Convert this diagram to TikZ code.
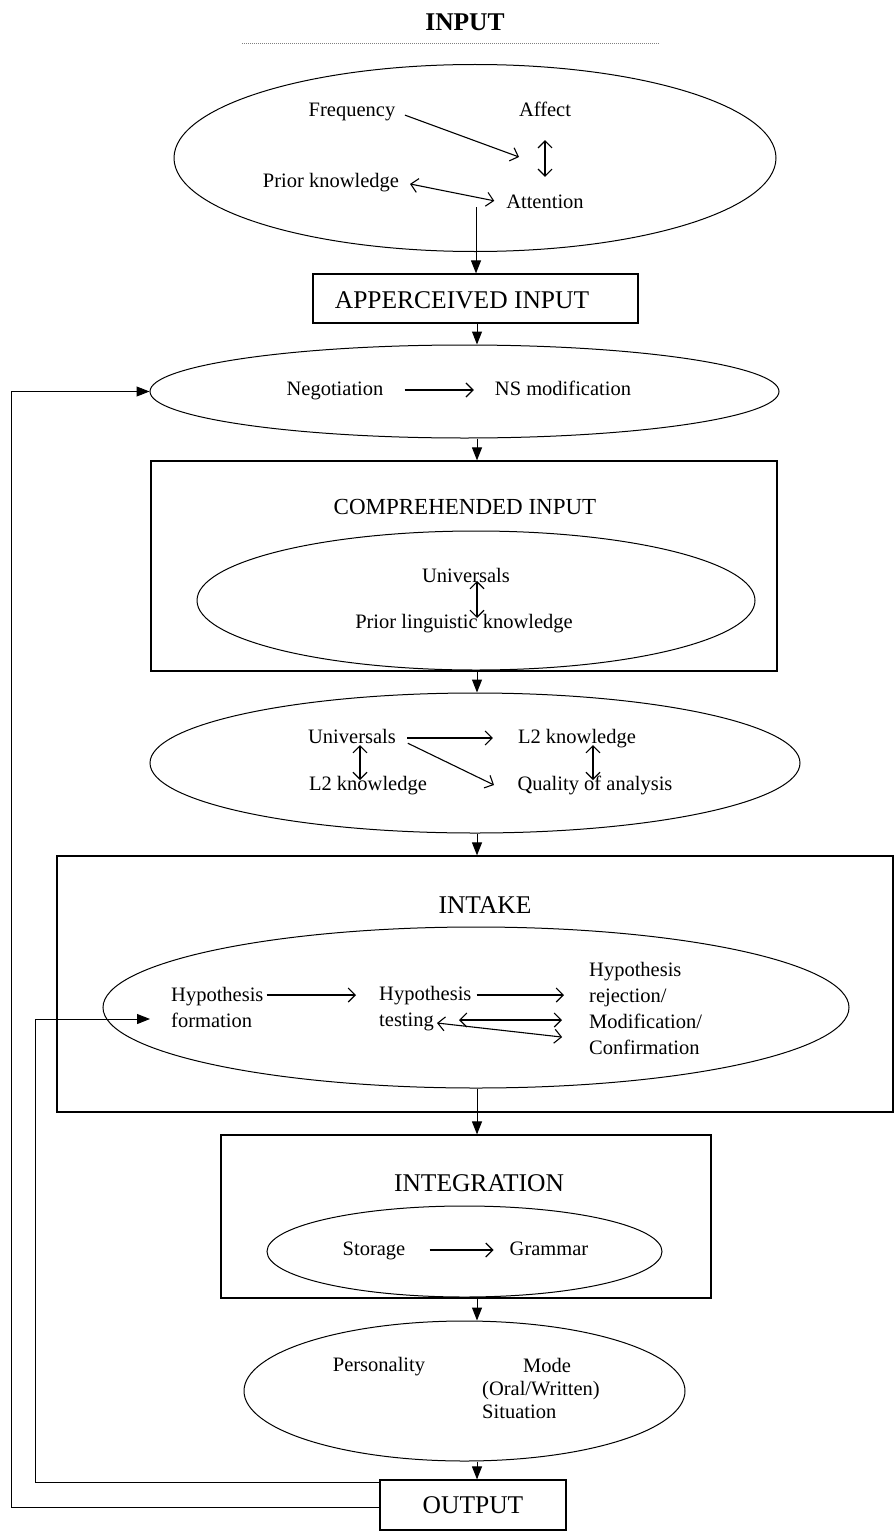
\documentclass[tikz,border=0pt]{standalone}
\usepackage{fontspec}
\setmainfont{Liberation Serif}
\usetikzlibrary{shapes.geometric,arrows.meta}
\begin{document}
\begin{tikzpicture}[x=1pt,y=-1pt,
  lbl/.style={font=\fontsize{20.5}{26}\selectfont, inner sep=1pt},
  word/.style={lbl, text height=14pt, text depth=4pt},
  heading/.style={font=\fontsize{25.5}{30}\selectfont, inner sep=1pt},
  frame/.style={draw, line width=1.2pt, inner sep=0pt},
  oval/.style={draw, ellipse, line width=1pt, inner sep=0pt},
  flow/.style={-{Triangle[length=13pt,width=10pt]}, line width=1pt},
  link/.style={-{Straight Barb[length=7pt,width=14pt]}, line width=1.1pt},
  dlink/.style={{Straight Barb[length=7pt,width=14pt]}-{Straight Barb[length=7pt,width=14pt]}, line width=1.1pt}]

\useasboundingbox (0,0) rectangle (895,1536);
\coordinate (spine) at (477,0);

\node[font=\fontsize{25.5}{30}\selectfont\bfseries, inner sep=1pt] (input) at (465,22) {INPUT};
\draw[gray, line width=0.7pt, dash pattern=on 0.7pt off 1.3pt] (242,43) -- (659,43);

\node[oval, minimum width=602pt, minimum height=187pt] (e1) at (475,158) {};
\node[word] (freq) at (352,112) {Frequency};
\node[word] (affect) at (545,112) {Affect};
\node[word] (prior) at (331,182) {Prior knowledge};
\node[word] (attn) at (545,203) {Attention};
\coordinate (fa) at (519,157);
\coordinate (attnfoot) at (476,207);
\draw[link, shorten <=9pt] (freq.east) -- (fa);
\draw[dlink, shorten <=18pt, shorten >=16pt] (affect.south) -- (attn.north);
\draw[dlink, shorten <=10pt, shorten >=11pt] (prior.east) -- (attn.west);

\node[frame, minimum width=325pt, minimum height=49pt] (apper) at (475.5,298.5) {};
\node[heading] (apperlbl) at (462,300) {APPERCEIVED INPUT};
\draw[flow] (attnfoot) -- (attnfoot |- apper.north);

\node[oval, minimum width=629pt, minimum height=93pt] (e2) at (464.5,391.5) {};
\node[word] (neg) at (335,390) {Negotiation};
\node[word] (nsmod) at (563,390) {NS modification};
\draw[link, shorten <=20pt, shorten >=20pt] (neg.east) -- (nsmod.west);
\draw[flow] (apper.south -| spine) -- (e2.north -| spine);

\node[frame, minimum width=626pt, minimum height=210pt] (comp) at (464,566) {};
\node[heading, font=\fontsize{23}{28}\selectfont] (complbl) at (465,507) {COMPREHENDED INPUT};
\node[oval, minimum width=558pt, minimum height=139pt] (e3) at (476,600.5) {};
\node[word] (univ1) at (466,577) {Universals};
\node[word] (plk) at (464,623) {Prior linguistic knowledge};
\draw[dlink, shorten <=4pt, shorten >=5pt] (univ1 -| spine) -- (plk -| spine);
\draw[flow] (e2.south -| spine) -- (comp.north -| spine);

\node[oval, minimum width=650pt, minimum height=140pt] (e4) at (475,763) {};
\node[word] (univ2) at (352,738) {Universals};
\node[word] (l2a) at (577,738) {L2 knowledge};
\node[word] (l2b) at (368,785) {L2 knowledge};
\node[word] (qual) at (595,785) {Quality of analysis};
\coordinate (uq) at (494,785);
\draw[link, shorten <=10pt, shorten >=24pt] (univ2.east) -- (l2a.west);
\draw[link, shorten <=12pt] (univ2.east) -- (uq);
\draw[dlink, shorten <=7pt, shorten >=5pt] ([xshift=8pt]univ2.center) -- ([xshift=-8pt]l2b.center);
\draw[dlink, shorten <=7pt, shorten >=5pt] ([xshift=16pt]l2a.center) -- ([xshift=-2pt]qual.center);
\draw[flow] (comp.south -| spine) -- (e4.north -| spine);

\node[frame, minimum width=836pt, minimum height=256pt] (intake) at (475,984) {};
\node[heading] (intakelbl) at (485,905) {INTAKE};
\node[oval, minimum width=746pt, minimum height=161pt] (e5) at (476,1007.5) {};
\node[lbl, align=left, anchor=west] (hypform) at (170,1007) {Hypothesis\\formation};
\node[lbl, align=left, anchor=west] (hyptest) at (378,1009) {Hypothesis\\testing};
\node[lbl, align=left, anchor=west] (hypres) at (588,1008) {Hypothesis\\rejection/\\Modification/\\Confirmation};
\coordinate (tst) at (437,1023);
\draw[link, shorten <=2pt, shorten >=22pt] ([yshift=12pt]hypform.east) -- ([yshift=14pt]hyptest.west);
\draw[link, shorten <=4pt, shorten >=24pt] ([yshift=14pt]hyptest.east) -- ([yshift=13pt]hypres.west);
\draw[dlink, shorten <=81pt, shorten >=26pt] ([yshift=-11pt]hyptest.west) -- ([yshift=-12pt]hypres.west);
\draw[dlink, shorten >=26pt] (tst) -- ([yshift=-32pt]hypres.west);
\draw[flow] (e4.south -| spine) -- (intake.north -| spine);

\node[frame, minimum width=490pt, minimum height=163pt] (integ) at (466,1216.5) {};
\node[heading] (integlbl) at (479,1183) {INTEGRATION};
\node[oval, minimum width=395pt, minimum height=91pt] (e6) at (464.5,1251.5) {};
\node[word] (storage) at (374,1250) {Storage};
\node[word] (grammar) at (549,1250) {Grammar};
\draw[link, shorten <=23pt, shorten >=15pt] (storage.east) -- (grammar.west);
\draw[flow] (e5.south -| spine) -- (integ.north -| spine);

\node[oval, minimum width=441pt, minimum height=140pt] (e7) at (464.5,1391) {};
\node[word] (pers) at (379,1366) {Personality};
\node[lbl, align=left, anchor=west, font=\fontsize{20.5}{23}\selectfont] (mode) at (481,1388) {\hspace*{41pt}Mode\\(Oral/Written)\\Situation};
\draw[flow] (integ.south -| spine) -- (e7.north -| spine);

\node[frame, heading, minimum width=186pt, minimum height=50pt] (output) at (473,1505) {OUTPUT};
\draw[flow] (e7.south -| spine) -- (output.north -| spine);

\coordinate (outerleft) at (11,0);
\coordinate (innerleft) at (35,0);
\coordinate (hyptip) at (150,1019);
\coordinate (outstart) at ([yshift=-2pt]output.west);
\coordinate (instart) at ([yshift=-3pt]output.north west);
\draw[flow] (outstart) -- (outstart -| outerleft) -- (e2.west -| outerleft) -- (e2.west);
\draw[flow] (instart) -- (instart -| innerleft) -- (hyptip -| innerleft) -- (hyptip);

\end{tikzpicture}
\end{document}
